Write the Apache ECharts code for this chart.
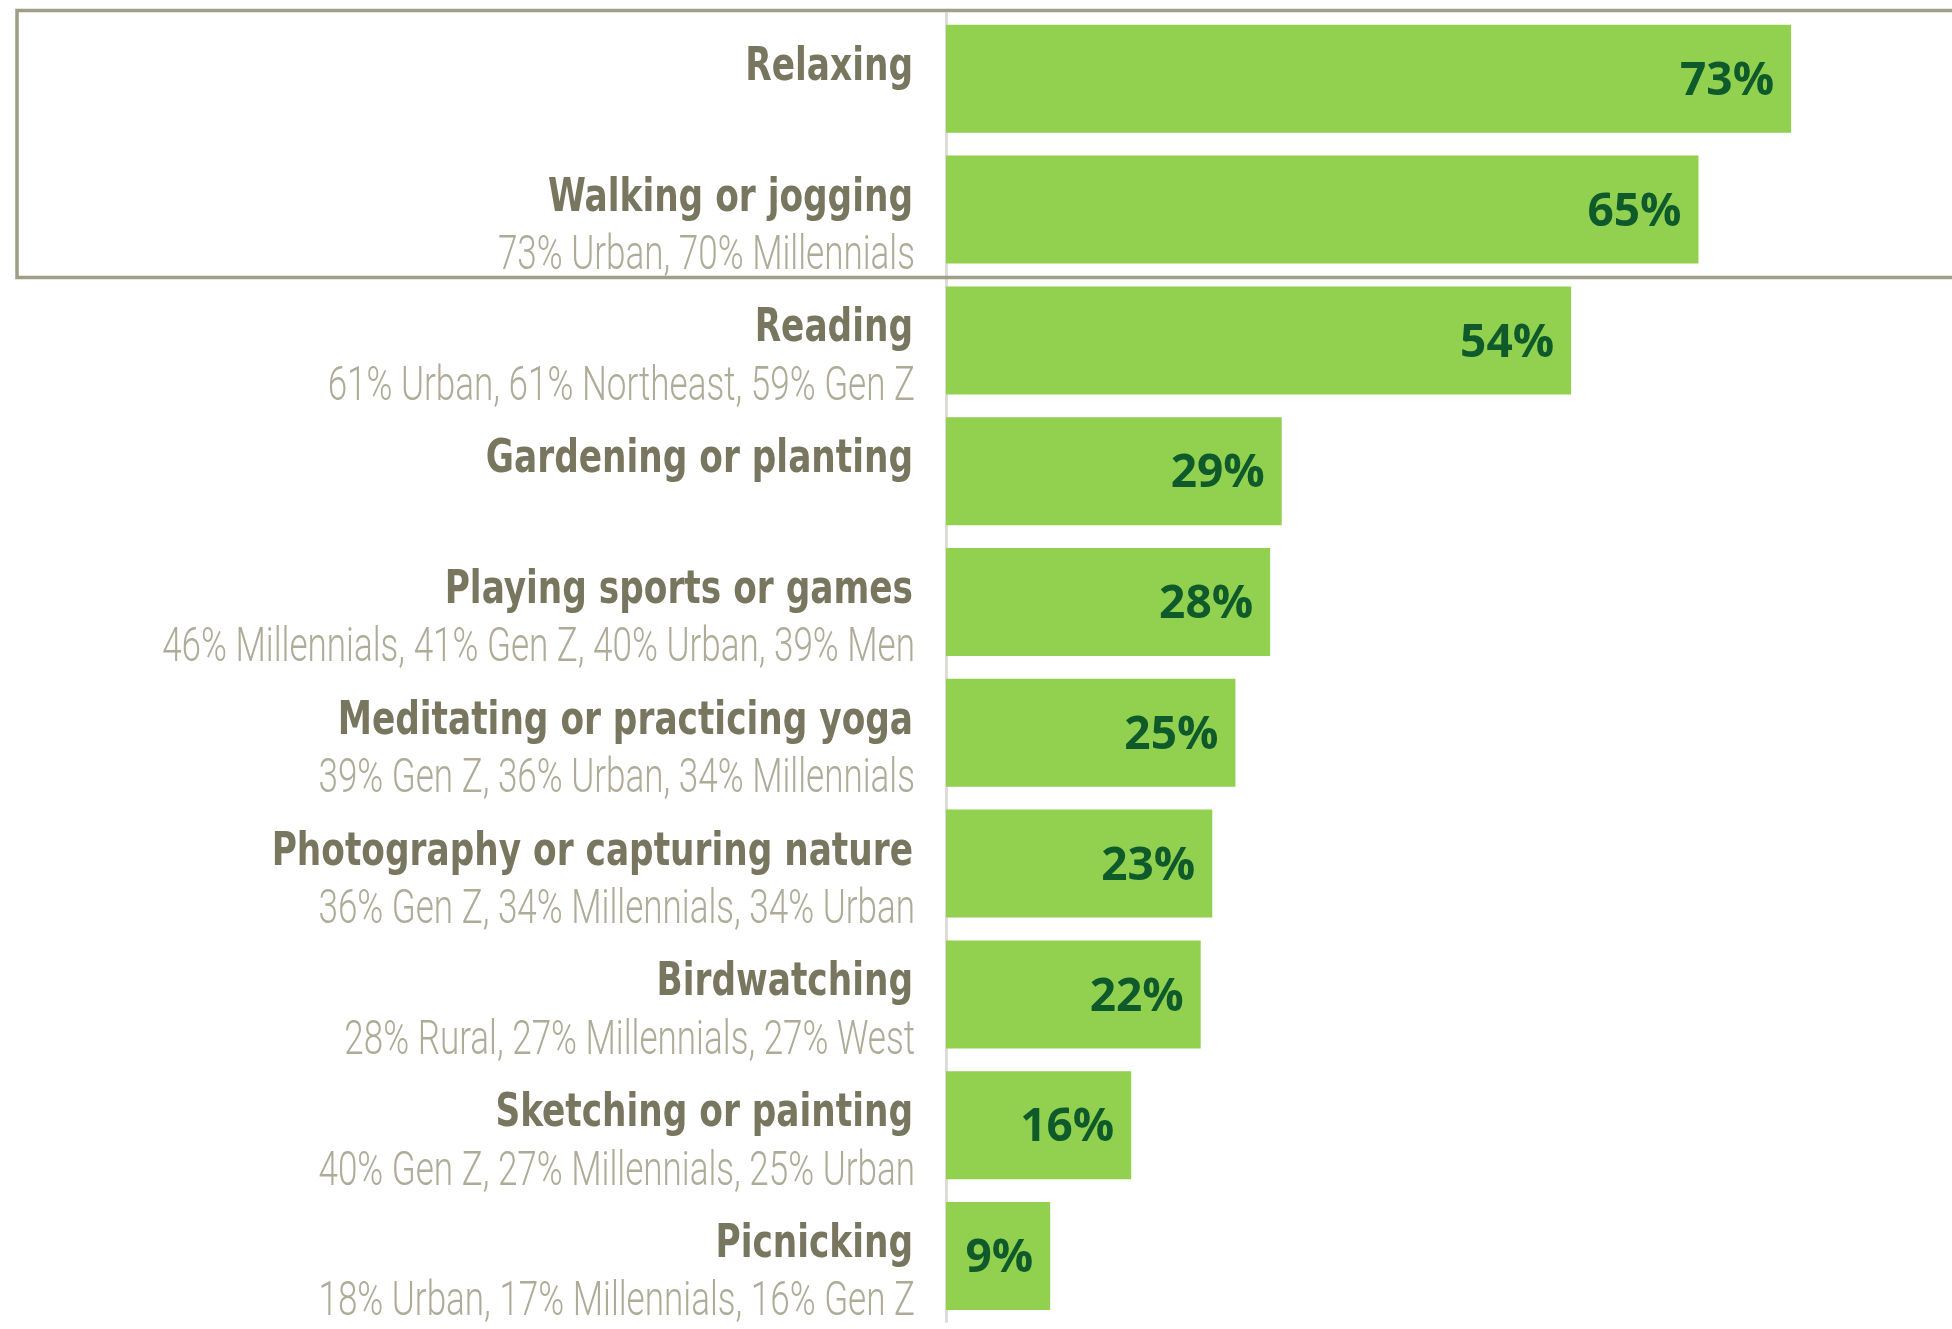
<!DOCTYPE html>
<html>
<head>
<meta charset="utf-8">
<style>
  html, body { margin: 0; padding: 0; background: #ffffff; }
  #chart { width: 1952px; height: 1329px; }
</style>
<script src="https://cdn.jsdelivr.net/npm/echarts@6/dist/echarts.min.js"></script>
</head>
<body>
<div id="chart"></div>
<script>
// Outdoor activities: share of respondents, with the groups most likely to do each one
const categories = [
  'Relaxing',
  'Walking or jogging',
  'Reading',
  'Gardening or planting',
  'Playing sports or games',
  'Meditating or practicing yoga',
  'Photography or capturing nature',
  'Birdwatching',
  'Sketching or painting',
  'Picnicking'
];
const subLabels = [
  '',
  '73% Urban, 70% Millennials',
  '61% Urban, 61% Northeast, 59% Gen Z',
  '',
  '46% Millennials, 41% Gen Z, 40% Urban, 39% Men',
  '39% Gen Z, 36% Urban, 34% Millennials',
  '36% Gen Z, 34% Millennials, 34% Urban',
  '28% Rural, 27% Millennials, 27% West',
  '40% Gen Z, 27% Millennials, 25% Urban',
  '18% Urban, 17% Millennials, 16% Gen Z'
];
const values = [73, 65, 54, 29, 28, 25, 23, 22, 16, 9];

// Condensed look for the left-hand labels: regular faces squeezed horizontally
const titleFont = { family: "'DejaVu Sans Condensed', 'DejaVu Sans', sans-serif", size: 46, weight: 'bold', squeeze: 0.83, color: '#78765f' };
const noteFont = { family: "Roboto, 'DejaVu Sans Condensed', sans-serif", size: 48, weight: 300, squeeze: 0.73, color: '#aeac98' };
const labelGap = 33;

function renderLabels(params, api) {
  const idx = api.value(0);
  const pt = api.coord([0, idx]);
  const right = pt[0] - labelGap;
  const cy = pt[1];
  const children = [{
    type: 'text',
    x: right,
    y: cy + 5 - titleFont.size * 0.346,
    scaleX: titleFont.squeeze,
    style: {
      text: categories[idx],
      x: 0, y: 0,
      align: 'right',
      verticalAlign: 'middle',
      fontFamily: titleFont.family,
      fontSize: titleFont.size,
      fontWeight: titleFont.weight,
      fill: titleFont.color
    }
  }];
  if (subLabels[idx]) {
    children.push({
      type: 'text',
      x: right + 2,
      y: cy + 64 - noteFont.size * 0.346,
      scaleX: noteFont.squeeze,
      style: {
        text: subLabels[idx],
        x: 0, y: 0,
        align: 'right',
        verticalAlign: 'middle',
        fontFamily: noteFont.family,
        fontSize: noteFont.size,
        fontWeight: noteFont.weight,
        fill: noteFont.color
      }
    });
  }
  return { type: 'group', children: children };
}

const chart = echarts.init(document.getElementById('chart'), null, { renderer: 'canvas' });

chart.setOption({
  animation: false,
  backgroundColor: '#ffffff',
  grid: { left: 946, right: 0, top: 13.4, bottom: 7.6, containLabel: false, outerBoundsMode: 'none' },
  xAxis: {
    type: 'value',
    min: 0,
    max: 86.9,
    show: false
  },
  yAxis: {
    type: 'category',
    inverse: true,
    data: categories,
    axisLine: { show: true, lineStyle: { color: '#dcdcd8', width: 3 } },
    axisTick: { show: false },
    splitLine: { show: false },
    axisLabel: { show: false }
  },
  graphic: [{
    type: 'rect',
    z: 10,
    silent: true,
    shape: { x: 17, y: 10.5, width: 2000, height: 267 },
    style: { fill: 'none', stroke: '#a09e88', lineWidth: 3.5 }
  }],
  series: [{
    type: 'bar',
    data: values,
    barWidth: 108,
    itemStyle: { color: '#92d050' },
    label: {
      show: true,
      position: 'insideRight',
      distance: 17,
      offset: [0, 3],
      formatter: '{c}%',
      fontFamily: "'Open Sans', 'Noto Sans', sans-serif",
      fontWeight: 'bold',
      fontSize: 46,
      color: '#0e5a2b'
    }
  }, {
    type: 'custom',
    name: 'labels',
    clip: false,
    silent: true,
    data: categories.map(function (c, i) { return [i]; }),
    encode: { y: 0 },
    renderItem: renderLabels
  }]
});
</script>
</body>
</html>
